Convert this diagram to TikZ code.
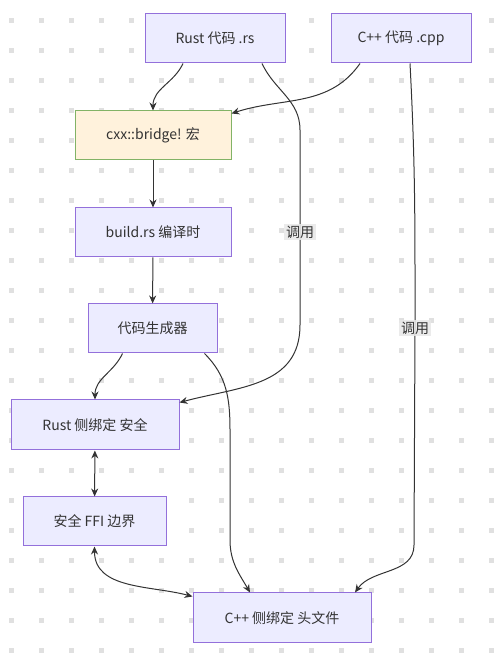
\documentclass[tikz,border=0pt]{standalone}
\usepackage{fontspec}
\setmainfont{Noto Sans CJK SC}
\usetikzlibrary{arrows.meta}
\definecolor{nodefill}{HTML}{ECECFF}
\definecolor{nodeline}{HTML}{9370DB}
\definecolor{macrofill}{HTML}{FFF2DC}
\definecolor{macroline}{HTML}{82B366}
\definecolor{inkline}{HTML}{333333}
\definecolor{griddot}{HTML}{E0E0E0}
\tikzstyle{flow-node}=[fill=nodefill,draw=nodeline,line width=1pt,rectangle,minimum height=49pt,text=inkline,font=\fontsize{14}{16}\selectfont]
\tikzstyle{macro-node}=[flow-node,fill=macrofill,draw=macroline]
\tikzstyle{call-label}=[fill=gray!18,fill opacity=0.85,text opacity=1,text=inkline,inner sep=2pt,font=\fontsize{14}{16}\selectfont]
\tikzstyle{dark-line}=[draw=inkline,line width=1pt]

\begin{document}
\begin{tikzpicture}[x=1pt,y=1pt]
        \useasboundingbox (0,0) rectangle (495,655);
        \foreach \i in {0,...,16}
            \foreach \j in {0,...,21}
                \fill[griddot] (9+30*\i,632-30*\j) rectangle ++(4.5,4.5);

        \begin{scope}
            \node (rs)[flow-node,minimum width=140pt] at (215,616.5) {Rust 代码 .rs};
            \node (cpp)[flow-node,minimum width=140pt] at (401,616.5) {C++ 代码 .cpp};
            \node (cxx)[macro-node,minimum width=156pt] at (153,519.5) {cxx::bridge! 宏};
            \node (build)[flow-node,minimum width=156pt] at (153,422.5) {build.rs 编译时};
            \node (gen)[flow-node,minimum width=129pt] at (152.5,326.5) {代码生成器};
            \node (rside)[flow-node,minimum width=168pt,minimum height=50pt] at (95,230) {Rust 侧绑定 安全};
            \node (ffi)[flow-node,minimum width=143pt] at (94.5,133.5) {安全 FFI 边界};
            \node (hdr)[flow-node,minimum width=178pt,minimum height=50pt] at (282,37) {C++ 侧绑定 头文件};
        \end{scope}

        \begin{scope}[>={Stealth[inkline,length=8pt,width=7pt]}, every edge/.style=dark-line]
            \path [->] ([xshift=-32pt]rs.south) edge[out=-115,in=90] node {} (cxx.north);
            \path [->] ([xshift=-41pt]cpp.south) edge[out=-125,in=18] node {} ([yshift=-3pt]cxx.north east);
            \path [->] (cxx) edge node {} (build);
            \path [->] (build) edge node {} (gen);
            \path [->] ([xshift=-30pt]gen.south) edge[out=-115,in=90] node {} (rside.north);
            \path [<->] (rside) edge node {} (ffi);
            \path [<->] (ffi.south) edge[out=-90,in=165] node {} ([yshift=-4pt]hdr.north west);
            \draw [dark-line,->] ([xshift=52pt]gen.south) to[out=-45,in=90] (230,225) -- (230,115) to[out=-90,in=120] ([xshift=-32pt]hdr.north);
            \draw [dark-line,->] ([xshift=47pt]rs.south) to[out=-65,in=90] (300,525) -- (300,423) node[call-label] {调用} -- (300,330) to[out=-90,in=15,looseness=1.1] ([yshift=-3pt]rside.north east);
            \draw [dark-line,->] ([xshift=9pt]cpp.south) to[out=-87,in=90] (415,327) node[call-label] {调用} -- (414,110) to[out=-90,in=55] ([xshift=73pt]hdr.north);
        \end{scope}

    \end{tikzpicture}
\end{document}
